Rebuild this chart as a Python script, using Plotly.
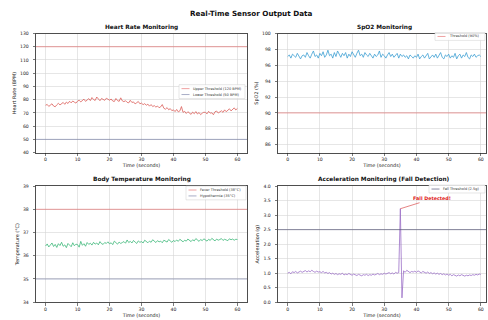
import plotly.graph_objects as go
from plotly.subplots import make_subplots

W, H = 488, 320

# ---------------- data ----------------
time_s = [i * 0.5 for i in range(121)]

heart_rate = [
    75.8, 76.4, 74.9, 75.6, 76.9, 75.2, 74.6, 76.1, 77.3, 76.0,
    76.8, 77.9, 76.5, 78.2, 77.1, 78.8, 77.6, 79.0, 78.1, 77.4,
    78.9, 79.6, 78.3, 79.2, 80.4, 78.7, 79.9, 80.8, 79.3, 81.6,
    80.1, 79.4, 82.0, 80.6, 79.2, 80.9, 80.3, 79.5, 81.1, 80.0,
    79.6, 80.5, 79.0, 78.6, 80.9, 79.3, 78.7, 81.4, 79.1, 78.5,
    79.2, 78.0, 77.6, 79.5, 77.9, 78.3, 76.8, 77.7, 78.6, 76.9,
    77.4, 76.2, 77.0, 75.8, 76.6, 75.1, 76.3, 74.8, 75.5, 74.4,
    75.2, 73.9, 74.6, 76.3, 73.5, 72.8, 74.0, 72.4, 73.2, 71.7,
    72.3, 71.0, 72.6, 70.8, 71.5, 74.8, 70.4, 71.2, 69.6, 70.9,
    70.1, 68.9, 70.6, 69.4, 71.0, 69.2, 70.3, 68.7, 69.8, 70.5,
    70.4, 69.3, 71.2, 69.8, 70.1, 68.6, 70.9, 71.4, 69.9, 71.0,
    71.6, 70.4, 72.3, 70.9, 71.8, 73.1, 71.5, 72.6, 73.8, 72.2,
    73.4,
]

spo2 = [
    97.1, 97.3, 96.9, 97.4, 97.2, 97.0, 97.5, 97.1, 96.8, 97.2,
    97.3, 97.0, 97.6, 97.2, 96.9, 97.4, 97.8, 97.1, 97.3, 96.9,
    97.5, 97.2, 97.7, 97.0, 97.3, 97.9, 97.2, 97.4, 96.9, 97.6,
    97.1, 97.8, 97.3, 97.0, 97.5, 97.2, 97.6, 96.9, 97.4, 97.1,
    97.7, 97.3, 97.0, 97.5, 97.9, 97.2, 97.4, 97.0, 97.6, 97.3,
    97.1, 97.5, 97.2, 96.9, 97.4, 97.1, 97.3, 97.8, 97.0, 97.4,
    97.2, 96.9, 97.3, 97.6, 97.1, 97.4, 97.0, 97.2, 97.5, 96.9,
    97.4, 97.1, 97.3, 97.0, 97.2, 96.8, 97.3, 97.1, 96.9, 97.2,
    97.0, 97.4, 96.8, 97.1, 97.3, 96.9, 97.2, 97.5, 96.8, 97.1,
    97.3, 97.0, 97.4, 96.9, 97.2, 97.6, 97.0, 96.8, 97.3, 97.1,
    97.4, 96.9, 97.2, 97.0, 97.5, 96.8, 97.2, 97.4, 96.9, 97.3,
    97.1, 97.6, 97.0, 96.8, 97.3, 97.1, 97.4, 97.0, 97.2, 97.3,
    97.1,
]

body_temp = [
    36.42, 36.51, 36.38, 36.47, 36.55, 36.40, 36.49, 36.36, 36.52, 36.44,
    36.58, 36.41, 36.47, 36.35, 36.53, 36.46, 36.39, 36.56, 36.43, 36.50,
    36.48, 36.37, 36.62, 36.45, 36.52, 36.41, 36.57, 36.49, 36.54, 36.46,
    36.58, 36.50, 36.55, 36.47, 36.61, 36.52, 36.49, 36.57, 36.53, 36.60,
    36.51, 36.56, 36.48, 36.63, 36.55, 36.50, 36.59, 36.53, 36.57, 36.61,
    36.54, 36.68, 36.57, 36.62, 36.55, 36.66, 36.59, 36.53, 36.64, 36.58,
    36.61, 36.55, 36.67, 36.60, 36.56, 36.63, 36.58, 36.69, 36.61, 36.57,
    36.65, 36.60, 36.63, 36.56, 36.67, 36.62, 36.59, 36.70, 36.63, 36.58,
    36.66, 36.61, 36.68, 36.62, 36.71, 36.64, 36.60, 36.67, 36.63, 36.72,
    36.65, 36.61, 36.69, 36.64, 36.74, 36.66, 36.62, 36.70, 36.65, 36.73,
    36.67, 36.63, 36.71, 36.66, 36.75, 36.68, 36.64, 36.72, 36.67, 36.70,
    36.74, 36.66, 36.71, 36.68, 36.65, 36.73, 36.69, 36.72, 36.67, 36.71,
    36.70,
]

acceleration = [
    1.00, 1.03, 0.98, 1.05, 1.02, 1.06, 1.01, 1.04, 1.07, 1.03,
    1.06, 1.09, 1.04, 1.08, 1.05, 1.10, 1.06, 1.03, 1.07, 1.04,
    1.05, 1.02, 1.06, 1.01, 1.03, 0.99, 1.02, 0.97, 1.00, 0.96,
    0.99, 0.95, 0.98, 0.96, 1.00, 0.94, 0.97, 0.95, 0.99, 0.96,
    0.93, 0.97, 0.95, 0.92, 0.96, 0.94, 0.91, 0.95, 0.93, 0.96,
    0.92, 0.95, 0.93, 0.97, 0.94, 0.96, 0.99, 0.95, 0.98, 0.96,
    1.00, 0.97, 0.99, 1.02, 0.98, 1.01, 0.97, 1.03, 1.00, 1.02,
    3.22, 0.15, 1.08, 1.03, 1.10, 1.05, 1.02, 1.06, 1.04, 1.07,
    1.03, 1.08, 1.05, 1.01, 1.06, 1.03, 1.00, 1.04, 0.99, 1.02,
    0.98, 1.01, 0.97, 1.00, 0.96, 0.99, 0.95, 0.98, 0.94, 0.97,
    0.93, 0.96, 0.91, 0.95, 0.92, 0.90, 0.94, 0.91, 0.95, 0.92,
    0.90, 0.93, 0.91, 0.94, 0.92, 0.95, 0.93, 0.96, 0.94, 0.97,
    0.96,
]

hr_thresholds = [120, 50]
hr_labels = ["Upper Threshold (120 BPM)", "Lower Threshold (50 BPM)"]
spo2_thresholds = [90]
spo2_labels = ["Threshold (90%)"]
temp_thresholds = [38, 35]
temp_labels = ["Fever Threshold (38°C)", "Hypothermia (35°C)"]
acc_thresholds = [2.5]
acc_labels = ["Fall Threshold (2.5g)"]

x_ticks = [0, 10, 20, 30, 40, 50, 60]
hr_ticks = [40, 50, 60, 70, 80, 90, 100, 110, 120, 130]
spo2_ticks = [86, 88, 90, 92, 94, 96, 98, 100]
temp_ticks = [34, 35, 36, 37, 38, 39]
acc_ticks = [0.0, 0.5, 1.0, 1.5, 2.0, 2.5, 3.0, 3.5, 4.0]

# ---------------- styles ----------------
FONT = "DejaVu Sans"
RED_T = "rgba(225,80,80,0.6)"
LOW_T = "rgba(95,105,150,0.6)"
ACC_T = "rgba(80,80,115,0.75)"
C_HR = "#dc5f5a"
C_SP = "#3d9fd3"
C_TE = "#3cb878"
C_AC = "#9a6fc6"

fig = make_subplots(rows=2, cols=2)

def px2x(p):
    return p / W

def px2y(p):
    return 1 - p / H

panels = [
    dict(r=1, c=1, y=heart_rate, col=C_HR, xd=(36, 247), yd=(32, 153), xr=[-3, 63], yr=[40, 130],
         yt=hr_ticks, fmt=None, ytitle="Heart Rate (BPM)",
         th=hr_thresholds, thc=[RED_T, LOW_T], labels=hr_labels,
         title="Heart Rate Monitoring", leg=dict(right=245, top=84, w=66)),
    dict(r=1, c=2, y=spo2, col=C_SP, xd=(278, 486), yd=(32, 153), xr=[-3, 61.6], yr=[85, 100],
         yt=spo2_ticks, fmt=None, ytitle="SpO2 (%)",
         th=spo2_thresholds, thc=[RED_T], labels=spo2_labels,
         title="SpO2 Monitoring", leg=dict(right=485, top=31, w=50)),
    dict(r=2, c=1, y=body_temp, col=C_TE, xd=(36, 247), yd=(187, 305), xr=[-3, 63], yr=[34, 39],
         yt=temp_ticks, fmt=None, ytitle="Temperature (°C)",
         th=temp_thresholds, thc=[RED_T, LOW_T], labels=temp_labels,
         title="Body Temperature Monitoring", leg=dict(right=246, top=187, w=60)),
    dict(r=2, c=2, y=acceleration, col=C_AC, xd=(278, 486), yd=(187, 305), xr=[-3, 61.6], yr=[0, 4],
         yt=acc_ticks, fmt=".1f", ytitle="Acceleration (g)",
         th=acc_thresholds, thc=[ACC_T], labels=acc_labels,
         title="Acceleration Monitoring (Fall Detection)", leg=dict(right=485, top=186, w=56)),
]

tickfont = dict(family=FONT, size=4.6, color="#222")
titlefont = dict(family=FONT, size=4.9, color="#222")

for p in panels:
    r, c = p["r"], p["c"]
    fig.add_trace(go.Scatter(x=time_s, y=p["y"], mode="lines",
                             line=dict(color=p["col"], width=0.8),
                             showlegend=False, hoverinfo="skip"), row=r, col=c)
    for val, colr in zip(p["th"], p["thc"]):
        fig.add_hline(y=val, line=dict(color=colr, width=0.9), row=r, col=c)
    axis_common = dict(showline=True, mirror=True, linecolor="#222", linewidth=0.8,
                       ticks="outside", ticklen=2.5, tickwidth=0.6, tickcolor="#222",
                       showgrid=True, gridcolor="#d6d6d6", gridwidth=0.6,
                       zeroline=False, tickfont=tickfont)
    fig.update_xaxes(domain=[px2x(p["xd"][0]), px2x(p["xd"][1])], range=p["xr"],
                     tickvals=x_ticks, title=dict(text="Time (seconds)", font=titlefont, standoff=0),
                     row=r, col=c, **axis_common)
    yk = dict(domain=[px2y(p["yd"][1]), px2y(p["yd"][0])], range=p["yr"],
              tickvals=p["yt"], ticklabelstandoff=3,
              title=dict(text=p["ytitle"], font=titlefont, standoff=3),
              **axis_common)
    if p["fmt"]:
        yk["tickformat"] = p["fmt"]
    fig.update_yaxes(row=r, col=c, **yk)

    # subplot title
    cx = (p["xd"][0] + 490) / 2 if c == 2 else (p["xd"][0] + p["xd"][1]) / 2
    fig.add_annotation(text="<b>%s</b>" % p["title"], xref="paper", yref="paper",
                       x=px2x(cx), y=px2y(p["yd"][0] - 6.5), showarrow=False,
                       font=dict(family=FONT, size=5.8, color="#111"),
                       xanchor="center", yanchor="middle")

    # legend box (drawn manually so it keeps the compact matplotlib size)
    lb = p["leg"]
    n = len(p["labels"])
    row_h = 6.0
    bx0, bx1 = lb["right"] - lb["w"], lb["right"]
    by0, by1 = lb["top"], lb["top"] + 2 + n * row_h
    fig.add_shape(type="rect", xref="paper", yref="paper",
                  x0=px2x(bx0), x1=px2x(bx1), y0=px2y(by1), y1=px2y(by0),
                  line=dict(color="#cfcfcf", width=0.5), fillcolor="rgba(255,255,255,0.85)",
                  layer="above")
    for k, (lab, colr) in enumerate(zip(p["labels"], p["thc"])):
        cy = by0 + 1 + row_h * (k + 0.5)
        fig.add_shape(type="line", xref="paper", yref="paper",
                      x0=px2x(bx0 + 2.5), x1=px2x(bx0 + 10.5), y0=px2y(cy), y1=px2y(cy),
                      line=dict(color=colr, width=0.9), layer="above")
        fig.add_annotation(text=lab, xref="paper", yref="paper",
                           x=px2x(bx0 + 12), y=px2y(cy), showarrow=False,
                           xanchor="left", yanchor="middle",
                           font=dict(family=FONT, size=3.5, color="#333"))

# fall annotation
peak_idx = acceleration.index(max(acceleration))
fig.add_annotation(x=time_s[peak_idx], y=acceleration[peak_idx], xref="x4", yref="y4",
                   text="<b>Fall Detected!</b>", showarrow=True, arrowhead=0,
                   arrowcolor="rgba(215,60,60,0.9)", arrowwidth=0.7,
                   ax=32, ay=-10, font=dict(family=FONT, size=4.8, color="#e02020"))

# main title
fig.add_annotation(text="<b>Real-Time Sensor Output Data</b>", xref="paper", yref="paper",
                   x=px2x(251), y=px2y(12), showarrow=False,
                   font=dict(family=FONT, size=7.2, color="#111"),
                   xanchor="center", yanchor="middle")

fig.update_layout(width=W, height=H, margin=dict(l=0, r=0, t=0, b=0),
                  paper_bgcolor="white", plot_bgcolor="white",
                  showlegend=False, font=dict(family=FONT))

fig.write_html("out.html", config={"displayModeBar": False, "staticPlot": True},
               post_script="document.body.style.margin='0';document.body.style.overflow='hidden';")
